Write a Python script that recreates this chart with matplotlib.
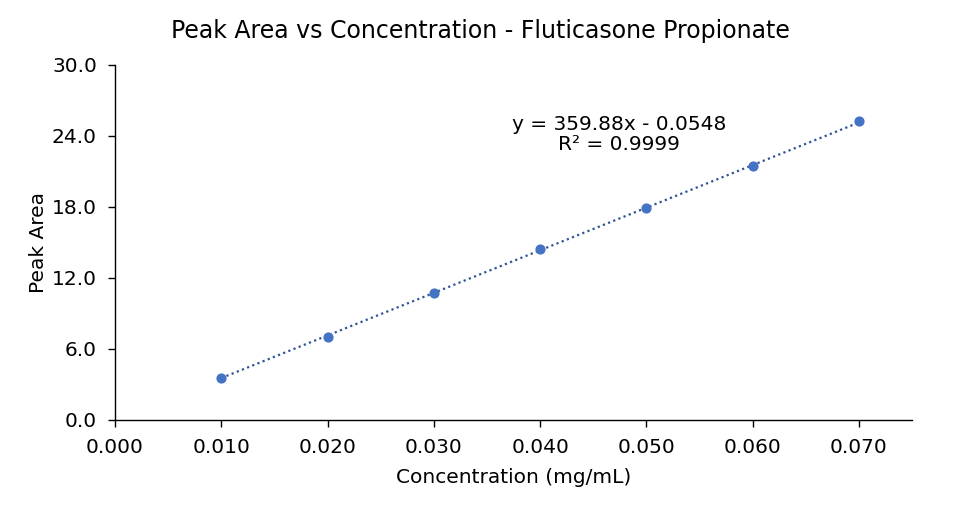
import numpy as np
import matplotlib.pyplot as plt

conc = [0.010, 0.020, 0.030, 0.040, 0.050, 0.060, 0.070]
area = [3.55, 7.05, 10.75, 14.45, 17.9, 21.5, 25.25]
slope = 359.88
intercept = -0.0548

fig = plt.figure(figsize=(9.6, 5.09), dpi=100)
ax = fig.add_axes([0.1198, 0.1749, 0.8302, 0.6974])

xs = np.array([conc[0], conc[-1]])
ax.plot(xs, slope * xs + intercept, color='#2F5597', linestyle=(0, (1, 1.5)), linewidth=1.6, zorder=2)
ax.scatter(conc, area, s=40, color='#4472C4', zorder=3)

ax.set_xlim(0, 0.075)
ax.set_ylim(0, 30)
ax.set_xticks([0.0, 0.01, 0.02, 0.03, 0.04, 0.05, 0.06, 0.07])
ax.set_xticklabels(['0.000', '0.010', '0.020', '0.030', '0.040', '0.050', '0.060', '0.070'])
ax.set_yticks([0, 6, 12, 18, 24, 30])
ax.set_yticklabels(['0.0', '6.0', '12.0', '18.0', '24.0', '30.0'])
ax.tick_params(labelsize=14.5, length=5, width=1, color='#000000')
ax.tick_params(axis='y', pad=8)
ax.tick_params(axis='x', pad=8)
for s in ['top', 'right']:
    ax.spines[s].set_visible(False)
for s in ['left', 'bottom']:
    ax.spines[s].set_linewidth(1)

ax.set_xlabel('Concentration (mg/mL)', fontsize=14.5, labelpad=8)
ax.set_ylabel('Peak Area', fontsize=14.5, labelpad=3)
fig.suptitle('Peak Area vs Concentration - Fluticasone Propionate', fontsize=17, y=0.963)

ax.text(0.04745, 22.5, 'y = 359.88x - 0.0548\nR² = 0.9999', ha='center', va='bottom',
        fontsize=14.5, linespacing=1.05)

fig.savefig('out.png', dpi=100)
